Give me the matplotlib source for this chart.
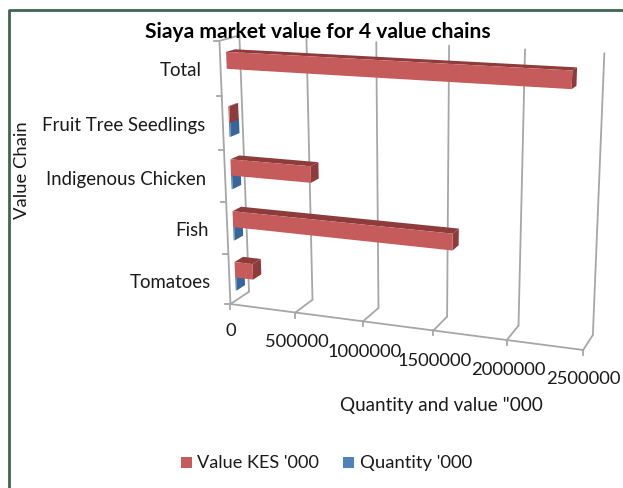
import matplotlib
matplotlib.use("Agg")
import matplotlib.pyplot as plt
from matplotlib.patches import Polygon
import numpy as np

# values
categories = ["Tomatoes", "Fish", "Indigenous Chicken", "Fruit Tree Seedlings", "Total"]
value_kes = [140000, 1600000, 600000, 8000, 2350000]
quantity = [8000, 8000, 8000, 10000, 0]
x_ticks = [0, 500000, 1000000, 1500000, 2000000, 2500000]
x_max = 2500000

RED_FRONT, RED_DARK = "#c65b5b", "#8e3b3b"
BLUE_FRONT, BLUE_DARK = "#4f81bd", "#38659a"
GRID = "#a6a6a6"
FRAME = "#3f6650"
TEXT = "#1a1a1a"

plt.rcParams["font.family"] = ["Lato", "DejaVu Sans"]

# where the box corners sit in the picture: (value, height, depth) -> pixel
anchors = [
    (0, 0, 0, 231, 305), (500000, 0, 0, 295, 315), (1000000, 0, 0, 363, 323),
    (1500000, 0, 0, 433, 332), (2000000, 0, 0, 507, 341), (2500000, 0, 0, 583, 350),
    (0, 0, 1, 249, 292), (500000, 0, 1, 313, 301), (1000000, 0, 1, 379, 308),
    (1500000, 0, 1, 447, 318), (2000000, 0, 1, 518, 327), (2500000, 0, 1, 593, 336),
    (0, 5, 1, 238, 37), (500000, 5, 1, 307, 40), (1000000, 5, 1, 376, 43),
    (1500000, 5, 1, 449, 47), (2000000, 5, 1, 526, 50), (2500000, 5, 1, 604, 54),
    (0, 5, 0, 220, 42), (0, 4, 0, 222, 97), (0, 3, 0, 224, 150),
    (0, 2, 0, 226, 203), (0, 1, 0, 228, 254),
]


def fit_camera(points):
    rows = []
    for v, h, d, px, py in points:
        v = v / x_max
        rows.append([v, h, d, 1, 0, 0, 0, 0, -px * v, -px * h, -px * d, -px])
        rows.append([0, 0, 0, 0, v, h, d, 1, -py * v, -py * h, -py * d, -py])
    _, _, vt = np.linalg.svd(np.array(rows, dtype=float))
    return vt[-1].reshape(3, 4)


camera = fit_camera(anchors)


def project(v, h, d):
    p = camera @ np.array([v / x_max, h, d, 1.0])
    return p[0] / p[2], p[1] / p[2]


def line3d(ax, a, b, **kw):
    pa, pb = project(*a), project(*b)
    ax.plot([pa[0], pb[0]], [pa[1], pb[1]], solid_capstyle="round", **kw)


def bar3d(ax, val, h0, h1, d0, d1, front, dark):
    top = [project(0, h1, d0), project(val, h1, d0), project(val, h1, d1), project(0, h1, d1)]
    side = [project(val, h0, d0), project(val, h1, d0), project(val, h1, d1), project(val, h0, d1)]
    face = [project(0, h0, d0), project(val, h0, d0), project(val, h1, d0), project(0, h1, d0)]
    ax.add_patch(Polygon(top, closed=True, fc=dark, ec="none", zorder=3))
    ax.add_patch(Polygon(side, closed=True, fc=dark, ec="none", zorder=3))
    ax.add_patch(Polygon(face, closed=True, fc=front, ec="none", zorder=3))


fig = plt.figure(figsize=(6.23, 4.89), dpi=100)
ax = fig.add_axes([0, 0, 1, 1])
ax.set_xlim(0, 623)
ax.set_ylim(489, 0)
ax.axis("off")

# frame
ax.plot([8.5, 8.5, 623], [489, 11, 11], color=FRAME, lw=2)

# box: gridlines on the back wall and floor
for t in x_ticks:
    line3d(ax, (t, 5, 1), (t, 0, 1), color=GRID, lw=1.3)
    line3d(ax, (t, 0, 1), (t, 0, 0), color=GRID, lw=1.3)
    p = project(t, 0, 0)
    ax.plot([p[0], p[0]], [p[1], p[1] + 5], color=GRID, lw=1.3)
line3d(ax, (0, 0, 0), (x_max, 0, 0), color=GRID, lw=1.3)
line3d(ax, (0, 0, 0), (0, 5, 0), color=GRID, lw=1.3)
line3d(ax, (0, 5, 0), (0, 5, 1), color=GRID, lw=1.3)
for h in range(6):
    p = project(0, h, 0)
    ax.plot([p[0] - 5, p[0]], [p[1], p[1]], color=GRID, lw=1.3)

# bars, quantity first so that value sits on top of it
d0, d1 = 0.3, 0.75
for i in range(len(categories)):
    if quantity[i] > 0:
        bar3d(ax, quantity[i], i + 0.2, i + 0.48, d0, d1, BLUE_FRONT, BLUE_DARK)
for i in range(len(categories)):
    bar3d(ax, value_kes[i], i + 0.46, i + 0.77, d0, d1, RED_FRONT, RED_DARK)

# tick labels
label_right = [211, 209, 206, 205, 202]
label_y = [282, 231, 179, 125, 71]
for i, name in enumerate(categories):
    ax.text(label_right[i], label_y[i], name, ha="right", va="center", fontsize=13.4, color=TEXT)
tick_pos = [(231, 331), (297, 342), (365, 352), (435, 361), (508, 370), (583, 379)]
for t, (px, py) in zip(x_ticks, tick_pos):
    ax.text(px, py, str(t), ha="center", va="center", fontsize=13.2, color=TEXT)

ax.text(318, 32, "Siaya market value for 4 value chains", ha="center", va="center",
        fontsize=15.1, fontweight="bold", color="black")
ax.text(22, 170, "Value Chain", rotation=90, ha="center", va="center", fontsize=13.3, color=TEXT)
ax.text(441, 405, "Quantity and value \"000", ha="center", va="center", fontsize=13.6, color=TEXT)

# legend
ax.add_patch(Polygon([(181, 458), (192, 458), (192, 469), (181, 469)], fc=RED_FRONT, ec="none"))
ax.text(197, 463, "Value KES '000", ha="left", va="center", fontsize=13.1, color=TEXT)
ax.add_patch(Polygon([(343, 458), (354, 458), (354, 469), (343, 469)], fc=BLUE_FRONT, ec="none"))
ax.text(360, 463, "Quantity '000", ha="left", va="center", fontsize=13.3, color=TEXT)

fig.savefig("out.png", dpi=100)
